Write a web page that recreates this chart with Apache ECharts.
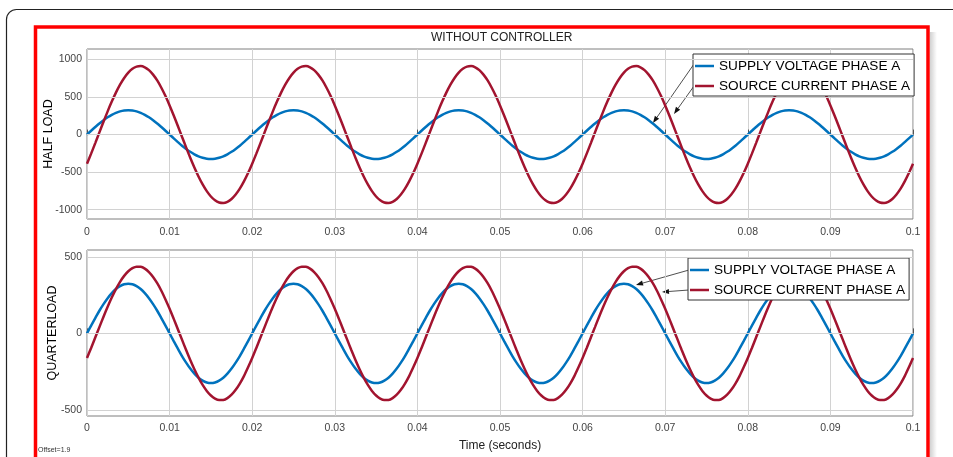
<!DOCTYPE html>
<html>
<head>
<meta charset="utf-8">
<title>WITHOUT CONTROLLER</title>
<script src="https://cdn.jsdelivr.net/npm/echarts@6/dist/echarts.min.js"></script>
<style>
  html, body { margin: 0; padding: 0; background: #fff; }
  #chart { width: 953px; height: 457px; }
</style>
</head>
<body>
<div id="chart"></div>
<script>
// sample times (s), 0.5 ms step
const timeS = [
  0, 0.0005, 0.001, 0.0015, 0.002, 0.0025, 0.003, 0.0035, 0.004, 0.0045, 0.005, 0.0055, 0.006, 0.0065, 0.007, 0.0075, 0.008, 0.0085, 0.009, 0.0095,
  0.010, 0.0105, 0.011, 0.0115, 0.012, 0.0125, 0.013, 0.0135, 0.014, 0.0145, 0.015, 0.0155, 0.016, 0.0165, 0.017, 0.0175, 0.018, 0.0185, 0.019, 0.0195,
  0.020, 0.0205, 0.021, 0.0215, 0.022, 0.0225, 0.023, 0.0235, 0.024, 0.0245, 0.025, 0.0255, 0.026, 0.0265, 0.027, 0.0275, 0.028, 0.0285, 0.029, 0.0295,
  0.030, 0.0305, 0.031, 0.0315, 0.032, 0.0325, 0.033, 0.0335, 0.034, 0.0345, 0.035, 0.0355, 0.036, 0.0365, 0.037, 0.0375, 0.038, 0.0385, 0.039, 0.0395,
  0.040, 0.0405, 0.041, 0.0415, 0.042, 0.0425, 0.043, 0.0435, 0.044, 0.0445, 0.045, 0.0455, 0.046, 0.0465, 0.047, 0.0475, 0.048, 0.0485, 0.049, 0.0495,
  0.050, 0.0505, 0.051, 0.0515, 0.052, 0.0525, 0.053, 0.0535, 0.054, 0.0545, 0.055, 0.0555, 0.056, 0.0565, 0.057, 0.0575, 0.058, 0.0585, 0.059, 0.0595,
  0.060, 0.0605, 0.061, 0.0615, 0.062, 0.0625, 0.063, 0.0635, 0.064, 0.0645, 0.065, 0.0655, 0.066, 0.0665, 0.067, 0.0675, 0.068, 0.0685, 0.069, 0.0695,
  0.070, 0.0705, 0.071, 0.0715, 0.072, 0.0725, 0.073, 0.0735, 0.074, 0.0745, 0.075, 0.0755, 0.076, 0.0765, 0.077, 0.0775, 0.078, 0.0785, 0.079, 0.0795,
  0.080, 0.0805, 0.081, 0.0815, 0.082, 0.0825, 0.083, 0.0835, 0.084, 0.0845, 0.085, 0.0855, 0.086, 0.0865, 0.087, 0.0875, 0.088, 0.0885, 0.089, 0.0895,
  0.090, 0.0905, 0.091, 0.0915, 0.092, 0.0925, 0.093, 0.0935, 0.094, 0.0945, 0.095, 0.0955, 0.096, 0.0965, 0.097, 0.0975, 0.098, 0.0985, 0.099, 0.0995,
  0.100
];

// HALF LOAD
const halfVoltage = [
  0, 51, 100, 148, 191, 230, 263, 290, 309, 321, 325, 321, 309, 290, 263, 230, 191, 148, 100, 51,
  0, -51, -100, -148, -191, -230, -263, -290, -309, -321, -325, -321, -309, -290, -263, -230, -191, -148, -100, -51,
  0, 51, 100, 148, 191, 230, 263, 290, 309, 321, 325, 321, 309, 290, 263, 230, 191, 148, 100, 51,
  0, -51, -100, -148, -191, -230, -263, -290, -309, -321, -325, -321, -309, -290, -263, -230, -191, -148, -100, -51,
  0, 51, 100, 148, 191, 230, 263, 290, 309, 321, 325, 321, 309, 290, 263, 230, 191, 148, 100, 51,
  0, -51, -100, -148, -191, -230, -263, -290, -309, -321, -325, -321, -309, -290, -263, -230, -191, -148, -100, -51,
  0, 51, 100, 148, 191, 230, 263, 290, 309, 321, 325, 321, 309, 290, 263, 230, 191, 148, 100, 51,
  0, -51, -100, -148, -191, -230, -263, -290, -309, -321, -325, -321, -309, -290, -263, -230, -191, -148, -100, -51,
  0, 51, 100, 148, 191, 230, 263, 290, 309, 321, 325, 321, 309, 290, 263, 230, 191, 148, 100, 51,
  0, -51, -100, -148, -191, -230, -263, -290, -309, -321, -325, -321, -309, -290, -263, -230, -191, -148, -100, -51,
  0
];
const halfCurrent = [
  -388, -254, -114, 29, 171, 309, 439, 559, 665, 754, 825, 876, 905, 912, 896, 858, 799, 721, 624, 513,
  388, 254, 114, -29, -171, -309, -439, -559, -665, -754, -825, -876, -905, -912, -896, -858, -799, -721, -624, -513,
  -388, -254, -114, 29, 171, 309, 439, 559, 665, 754, 825, 876, 905, 912, 896, 858, 799, 721, 624, 513,
  388, 254, 114, -29, -171, -309, -439, -559, -665, -754, -825, -876, -905, -912, -896, -858, -799, -721, -624, -513,
  -388, -254, -114, 29, 171, 309, 439, 559, 665, 754, 825, 876, 905, 912, 896, 858, 799, 721, 624, 513,
  388, 254, 114, -29, -171, -309, -439, -559, -665, -754, -825, -876, -905, -912, -896, -858, -799, -721, -624, -513,
  -388, -254, -114, 29, 171, 309, 439, 559, 665, 754, 825, 876, 905, 912, 896, 858, 799, 721, 624, 513,
  388, 254, 114, -29, -171, -309, -439, -559, -665, -754, -825, -876, -905, -912, -896, -858, -799, -721, -624, -513,
  -388, -254, -114, 29, 171, 309, 439, 559, 665, 754, 825, 876, 905, 912, 896, 858, 799, 721, 624, 513,
  388, 254, 114, -29, -171, -309, -439, -559, -665, -754, -825, -876, -905, -912, -896, -858, -799, -721, -624, -513,
  -388
];

// QUARTERLOAD
const quarterVoltage = [
  0, 51, 100, 148, 191, 230, 263, 290, 309, 321, 325, 321, 309, 290, 263, 230, 191, 148, 100, 51,
  0, -51, -100, -148, -191, -230, -263, -290, -309, -321, -325, -321, -309, -290, -263, -230, -191, -148, -100, -51,
  0, 51, 100, 148, 191, 230, 263, 290, 309, 321, 325, 321, 309, 290, 263, 230, 191, 148, 100, 51,
  0, -51, -100, -148, -191, -230, -263, -290, -309, -321, -325, -321, -309, -290, -263, -230, -191, -148, -100, -51,
  0, 51, 100, 148, 191, 230, 263, 290, 309, 321, 325, 321, 309, 290, 263, 230, 191, 148, 100, 51,
  0, -51, -100, -148, -191, -230, -263, -290, -309, -321, -325, -321, -309, -290, -263, -230, -191, -148, -100, -51,
  0, 51, 100, 148, 191, 230, 263, 290, 309, 321, 325, 321, 309, 290, 263, 230, 191, 148, 100, 51,
  0, -51, -100, -148, -191, -230, -263, -290, -309, -321, -325, -321, -309, -290, -263, -230, -191, -148, -100, -51,
  0, 51, 100, 148, 191, 230, 263, 290, 309, 321, 325, 321, 309, 290, 263, 230, 191, 148, 100, 51,
  0, -51, -100, -148, -191, -230, -263, -290, -309, -321, -325, -321, -309, -290, -263, -230, -191, -148, -100, -51,
  0
];
const quarterCurrent = [
  -161, -95, -27, 41, 109, 174, 234, 289, 337, 376, 406, 426, 436, 435, 423, 401, 369, 328, 279, 222,
  161, 95, 27, -41, -109, -174, -234, -289, -337, -376, -406, -426, -436, -435, -423, -401, -369, -328, -279, -222,
  -161, -95, -27, 41, 109, 174, 234, 289, 337, 376, 406, 426, 436, 435, 423, 401, 369, 328, 279, 222,
  161, 95, 27, -41, -109, -174, -234, -289, -337, -376, -406, -426, -436, -435, -423, -401, -369, -328, -279, -222,
  -161, -95, -27, 41, 109, 174, 234, 289, 337, 376, 406, 426, 436, 435, 423, 401, 369, 328, 279, 222,
  161, 95, 27, -41, -109, -174, -234, -289, -337, -376, -406, -426, -436, -435, -423, -401, -369, -328, -279, -222,
  -161, -95, -27, 41, 109, 174, 234, 289, 337, 376, 406, 426, 436, 435, 423, 401, 369, 328, 279, 222,
  161, 95, 27, -41, -109, -174, -234, -289, -337, -376, -406, -426, -436, -435, -423, -401, -369, -328, -279, -222,
  -161, -95, -27, 41, 109, 174, 234, 289, 337, 376, 406, 426, 436, 435, 423, 401, 369, 328, 279, 222,
  161, 95, 27, -41, -109, -174, -234, -289, -337, -376, -406, -426, -436, -435, -423, -401, -369, -328, -279, -222,
  -161
];

const seriesNames = ['SUPPLY VOLTAGE PHASE A', 'SOURCE CURRENT PHASE A'];
const xTickLabels = ['0', '0.01', '0.02', '0.03', '0.04', '0.05', '0.06', '0.07', '0.08', '0.09', '0.1'];
const halfTicks = [-1000, -500, 0, 500, 1000];
const quarterTicks = [-500, 0, 500];

const FONT = 'Liberation Sans, Arial, sans-serif';
const BLUE = '#0072BD';
const RED = '#A2142F';

function pairs(ys) {
  return timeS.map((t, i) => [t, ys[i]]);
}

function xAxisOf(gridIndex, labelMargin, extra) {
  return Object.assign({
    type: 'value', gridIndex: gridIndex, min: 0, max: 0.1, interval: 0.01,
    axisLine: { show: false },
    axisTick: { inside: true, length: 5, lineStyle: { color: '#555' } },
    axisLabel: {
      margin: labelMargin, color: '#444', fontSize: 10.5, fontFamily: FONT,
      formatter: v => xTickLabels[Math.round(v / 0.01)]
    },
    splitLine: { show: true, lineStyle: { color: '#d2d2d2', width: 1 } }
  }, extra || {});
}

function yAxisOf(gridIndex, lo, hi, ticks, name, gap) {
  return {
    type: 'value', gridIndex: gridIndex, min: lo, max: hi,
    name: name, nameLocation: 'middle', nameRotate: 90, nameGap: gap, nameMoveOverlap: false,
    nameTextStyle: { color: '#000', fontSize: 12.5, fontFamily: FONT },
    axisLine: { show: false },
    axisTick: { inside: true, length: 5, customValues: ticks, lineStyle: { color: '#555' } },
    axisLabel: {
      margin: 5, color: '#444', fontSize: 10.5, fontFamily: FONT, customValues: ticks,
      formatter: v => String(v)
    },
    splitLine: { show: false }
  };
}

function gridLines(xi, ticks) {
  return {
    type: 'line', xAxisIndex: xi, yAxisIndex: xi, data: [], z: 1, silent: true,
    markLine: {
      silent: true, symbol: ['none', 'none'], animation: false,
      label: { show: false },
      lineStyle: { color: '#d2d2d2', type: 'solid', width: 1 },
      data: ticks.map(v => ({ yAxis: v }))
    }
  };
}

function curve(name, xi, ys, color) {
  return {
    name: name, type: 'line', xAxisIndex: xi, yAxisIndex: xi,
    data: pairs(ys), smooth: 0.3, symbol: 'none', z: 3,
    lineStyle: { color: color, width: 2.5 }, itemStyle: { color: color }
  };
}

function legendAt(left, top) {
  return {
    data: seriesNames, orient: 'vertical', left: left, top: top,
    padding: [5, 4, 3, 2], itemGap: 6, itemWidth: 19, itemHeight: 2.5, icon: 'rect',
    backgroundColor: '#fff', borderColor: '#333', borderWidth: 1,
    textStyle: { color: '#000', fontSize: 13.6, lineHeight: 14, fontFamily: FONT },
    selectedMode: false
  };
}

function arrow(x1, y1, x2, y2) {
  const a = Math.atan2(y2 - y1, x2 - x1), L = 7, w = 2.6;
  const bx = x2 - L * Math.cos(a), by = y2 - L * Math.sin(a);
  return {
    type: 'group', z: 100, children: [
      { type: 'line', shape: { x1: x1, y1: y1, x2: bx, y2: by }, style: { stroke: '#222', lineWidth: 0.8 } },
      { type: 'polygon', shape: { points: [[x2, y2], [bx + w * Math.sin(a), by - w * Math.cos(a)], [bx - w * Math.sin(a), by + w * Math.cos(a)]] },
        style: { fill: '#111' } }
    ]
  };
}

const chart = echarts.init(document.getElementById('chart'));
chart.setOption({
  animation: false,
  backgroundColor: '#fff',
  title: {
    text: 'WITHOUT CONTROLLER', left: 431, top: 32, padding: 0,
    textStyle: { color: '#222', fontSize: 12, fontWeight: 'normal', fontFamily: FONT }
  },
  legend: [legendAt(693, 54), legendAt(688, 258)],
  grid: [
    { left: 87, right: 40, top: 49, height: 170, show: true, borderColor: '#7f7f7f', borderWidth: 1, backgroundColor: '#fff' },
    { left: 87, right: 40, top: 250, height: 166, show: true, borderColor: '#7f7f7f', borderWidth: 1, backgroundColor: '#fff' }
  ],
  xAxis: [
    xAxisOf(0, 8),
    xAxisOf(1, 7, {
      name: 'Time (seconds)', nameLocation: 'middle', nameGap: 24, nameMoveOverlap: false,
      nameTextStyle: { color: '#222', fontSize: 12, fontFamily: FONT }
    })
  ],
  yAxis: [
    yAxisOf(0, -1125, 1140, halfTicks, 'HALF LOAD', 32),
    yAxisOf(1, -540, 545, quarterTicks, 'QUARTERLOAD', 28)
  ],
  series: [
    gridLines(0, halfTicks),
    gridLines(1, quarterTicks),
    curve(seriesNames[0], 0, halfVoltage, BLUE),
    curve(seriesNames[1], 0, halfCurrent, RED),
    curve(seriesNames[0], 1, quarterVoltage, BLUE),
    curve(seriesNames[1], 1, quarterCurrent, RED)
  ],
  graphic: [
    { type: 'rect', z: -10, shape: { x: 6.5, y: 9.5, width: 980, height: 480, r: 10 },
      style: { fill: 'none', stroke: '#222', lineWidth: 1.2 } },
    { type: 'rect', z: -10, shape: { x: 930, y: 32, width: 7, height: 440 },
      style: { fill: new echarts.graphic.LinearGradient(0, 0, 1, 0, [
        { offset: 0, color: 'rgba(0,0,0,0.18)' }, { offset: 1, color: 'rgba(0,0,0,0)' }]) } },
    { type: 'rect', z: -5, shape: { x: 35.5, y: 27, width: 892.5, height: 460 },
      style: { fill: 'none', stroke: '#ff0000', lineWidth: 3.5 } },
    { type: 'text', z: 100, x: 38, y: 450,
      style: { text: 'Offset=1.9', fill: '#333', fontSize: 7, fontFamily: FONT, verticalAlign: 'middle' } },
    arrow(694, 64, 653, 123),
    arrow(694, 86, 674, 114),
    arrow(689, 270, 636, 285),
    arrow(689, 290, 662, 292)
  ]
});
</script>
</body>
</html>
